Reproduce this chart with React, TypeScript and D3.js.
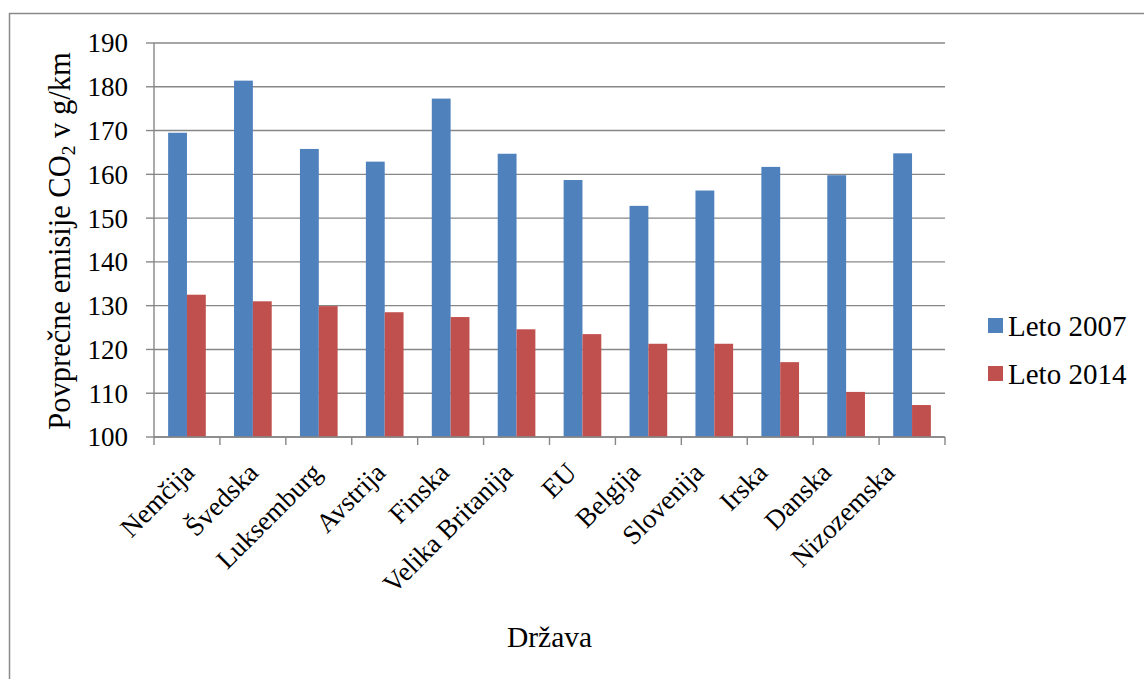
import React from "react";
import * as d3 from "d3";

const categories = ["Nemčija", "Švedska", "Luksemburg", "Avstrija", "Finska", "Velika Britanija", "EU", "Belgija", "Slovenija", "Irska", "Danska", "Nizozemska"];
const series2007 = [169.5, 181.4, 165.8, 162.9, 177.3, 164.7, 158.7, 152.8, 156.3, 161.7, 159.8, 164.8];
const series2014 = [132.5, 131.0, 129.9, 128.5, 127.4, 124.6, 123.5, 121.3, 121.3, 117.1, 110.3, 107.3];
const seriesNames = ["Leto 2007", "Leto 2014"];
const seriesColors = ["#4F81BD", "#C0504D"];
const yTicks = [100, 110, 120, 130, 140, 150, 160, 170, 180, 190];

const W = 1144, H = 679;
const FONT = '"Liberation Serif", "DejaVu Serif", "Times New Roman", serif';
const ts: React.CSSProperties = { fontFamily: FONT };

export default function App() {
  const left = 154, right = 945, top = 43, bottom = 437;
  const x = d3.scaleBand<string>().domain(categories).range([left, right]).paddingInner(0).paddingOuter(0);
  const labelX = d3.scaleBand<string>().domain(categories).range([165, 929]);
  const y = d3.scaleLinear().domain([100, 190]).range([bottom, top]);
  const bw = x.bandwidth();
  const barW = bw / 3.5;
  const inner = d3.scaleBand<number>().domain([0, 1]).range([(bw - 2 * barW) / 2, (bw + 2 * barW) / 2]);
  const data = [series2007, series2014];
  const gridColor = "#878787";

  return (
    <svg width={W} height={H} style={{ position: "absolute", left: 0, top: 0, display: "block", fontFamily: FONT }}>
      <rect x={0} y={0} width={W} height={H} fill="#fff" />
      <rect x={9.5} y={13.5} width={W + 20} height={H + 20} fill="none" stroke="#8a8a8a" strokeWidth={1.5} />
      {yTicks.map((t) => (
        <line key={"g" + t} x1={left} x2={right} y1={y(t)} y2={y(t)} stroke={gridColor} strokeWidth={1.4} />
      ))}
      {data.map((s, si) =>
        s.map((v, i) => (
          <rect
            key={si + "-" + i}
            x={(x(categories[i]) as number) + (inner(si) as number)}
            y={y(v)}
            width={inner.bandwidth()}
            height={y(100) - y(v)}
            fill={seriesColors[si]}
          />
        ))
      )}
      <line x1={left} x2={left} y1={top} y2={bottom} stroke={gridColor} strokeWidth={1.4} />
      {yTicks.map((t) => (
        <g key={"yt" + t}>
          <line x1={left - 8} x2={left} y1={y(t)} y2={y(t)} stroke={gridColor} strokeWidth={1.4} />
          <text x={128} y={y(t)} dy="0.35em" textAnchor="end" fontSize={27} fill="#000" style={ts}>
            {t}
          </text>
        </g>
      ))}
      <line x1={left} x2={right} y1={bottom} y2={bottom} stroke={gridColor} strokeWidth={1.4} />
      {d3.range(categories.length + 1).map((i) => (
        <line key={"xt" + i} x1={left + i * bw} x2={left + i * bw} y1={bottom} y2={bottom + 8} stroke={gridColor} strokeWidth={1.4} />
      ))}
      {categories.map((c) => {
        const lx = (labelX(c) as number) + labelX.bandwidth() / 2 - 18;
        return (
          <text key={"xl" + c} transform={`translate(${lx},457) rotate(-45)`} dy="0.9em" textAnchor="end" fontSize={27} fill="#000" style={ts}>
            {c}
          </text>
        );
      })}
      <text x={(left + right) / 2} y={647} textAnchor="middle" fontSize={29.5} fill="#000" style={ts}>
        Država
      </text>
      <text transform={`translate(70,241) rotate(-90)`} textAnchor="middle" fontSize={30.5} fill="#000" style={ts}>
        Povprečne emisije CO<tspan fontSize={19.5} dy="5">2</tspan><tspan dy="-5"> v g/km</tspan>
      </text>
      {seriesNames.map((n, i) => (
        <g key={"lg" + i}>
          <rect x={988} y={318 + i * 48} width={15} height={15} fill={seriesColors[i]} />
          <text x={1008} y={336 + i * 48} fontSize={29} fill="#000" style={ts}>
            {n}
          </text>
        </g>
      ))}
    </svg>
  );
}
